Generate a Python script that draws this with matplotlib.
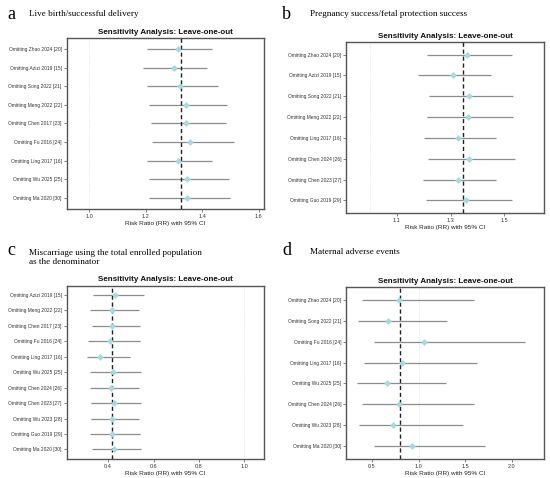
import numpy as np
import matplotlib
matplotlib.use('Agg')
import matplotlib.pyplot as plt

plt.rcParams['font.family'] = ['Liberation Sans', 'DejaVu Sans']

# panel a: live birth
a_labels = ['Omitting Zhao 2024 [20]', 'Omitting Azizi 2019 [15]', 'Omitting Song 2022 [21]',
            'Omitting Meng 2022 [22]', 'Omitting Chen 2017 [23]', 'Omitting Fu 2016 [24]',
            'Omitting Ling 2017 [16]', 'Omitting Wu 2025 [25]', 'Omitting Ma 2020 [30]']
a_rr = [1.314, 1.300, 1.322, 1.342, 1.342, 1.358, 1.316, 1.346, 1.348]
a_lo = [1.204, 1.192, 1.204, 1.212, 1.218, 1.222, 1.204, 1.212, 1.212]
a_hi = [1.435, 1.419, 1.458, 1.490, 1.486, 1.514, 1.435, 1.496, 1.499]
a_overall = 1.325

# panel b: pregnancy success
b_labels = ['Omitting Zhao 2024 [20]', 'Omitting Azizi 2019 [15]', 'Omitting Song 2022 [21]',
            'Omitting Meng 2022 [22]', 'Omitting Ling 2017 [16]', 'Omitting Chen 2024 [26]',
            'Omitting Chen 2023 [27]', 'Omitting Guo 2019 [29]']
b_rr = [1.361, 1.308, 1.369, 1.364, 1.328, 1.369, 1.328, 1.359]
b_lo = [1.213, 1.180, 1.221, 1.213, 1.202, 1.217, 1.199, 1.208]
b_hi = [1.528, 1.451, 1.534, 1.533, 1.468, 1.540, 1.471, 1.530]
b_overall = 1.345

# panel c: miscarriage
c_labels = ['Omitting Azizi 2019 [15]', 'Omitting Meng 2022 [22]', 'Omitting Chen 2017 [23]',
            'Omitting Fu 2016 [24]', 'Omitting Ling 2017 [16]', 'Omitting Wu 2025 [25]',
            'Omitting Chen 2024 [26]', 'Omitting Chen 2023 [27]', 'Omitting Wu 2023 [28]',
            'Omitting Guo 2019 [29]', 'Omitting Ma 2020 [30]']
c_rr = [0.432, 0.415, 0.419, 0.409, 0.363, 0.422, 0.412, 0.424, 0.418, 0.419, 0.424]
c_lo = [0.331, 0.322, 0.328, 0.312, 0.307, 0.322, 0.319, 0.326, 0.326, 0.322, 0.328]
c_hi = [0.559, 0.535, 0.540, 0.540, 0.496, 0.544, 0.538, 0.544, 0.537, 0.541, 0.544]
c_overall = 0.415

# panel d: maternal adverse events
d_labels = ['Omitting Zhao 2024 [20]', 'Omitting Song 2022 [21]', 'Omitting Fu 2016 [24]',
            'Omitting Ling 2017 [16]', 'Omitting Wu 2025 [25]', 'Omitting Chen 2024 [26]',
            'Omitting Wu 2023 [28]', 'Omitting Ma 2020 [30]']
d_rr = [0.790, 0.675, 1.062, 0.819, 0.661, 0.790, 0.729, 0.933]
d_lo = [0.396, 0.350, 0.525, 0.418, 0.335, 0.396, 0.364, 0.525]
d_hi = [1.599, 1.306, 2.147, 1.628, 1.298, 1.592, 1.481, 1.714]
d_overall = 0.797

panels = [
    (a_labels, a_rr, a_lo, a_hi, a_overall,
     [1.0, 1.2, 1.4, 1.6], ['1.0', '1.2', '1.4', '1.6'], (0.92, 1.62),
     [0.121, 0.5628, 0.3593, 0.3577]),
    (b_labels, b_rr, b_lo, b_hi, b_overall,
     [1.1, 1.3, 1.5], ['1.1', '1.3', '1.5'], (0.91, 1.648),
     [0.629, 0.5544, 0.36, 0.3577]),
    (c_labels, c_rr, c_lo, c_hi, c_overall,
     [0.4, 0.6, 0.8, 1.0], ['0.4', '0.6', '0.8', '1.0'], (0.2165, 1.088),
     [0.121, 0.0404, 0.3593, 0.362]),
    (d_labels, d_rr, d_lo, d_hi, d_overall,
     [0.5, 1.0, 1.5, 2.0], ['0.5', '1.0', '1.5', '2.0'], (0.221, 2.347),
     [0.629, 0.0404, 0.36, 0.3586]),
]

fig = plt.figure(figsize=(5.5, 4.78), dpi=100)

for labels, rr, lo, hi, overall, ticks, ticklabels, xlim, pos in panels:
    ax = fig.add_axes(pos)
    n = len(labels)
    y = np.arange(n)[::-1] + 1
    ax.axvline(1.0, color='#d8dde0', lw=0.6, ls=':', zorder=1)
    ax.hlines(y, lo, hi, color='#8c8c8c', lw=0.9, zorder=2)
    ax.axvline(overall, color='#222222', lw=1.0, ls=(0, (3, 2)), zorder=3)
    ax.scatter(rr, y, marker='D', s=9, color='#a3dde0', edgecolor='#8fcfd6', lw=0.3, zorder=4)
    ax.set_xlim(*xlim)
    ax.set_ylim(0.4, n + 0.6)
    ax.set_yticks(y)
    ax.set_yticklabels(labels, fontsize=3.5)
    ax.set_xticks(ticks)
    ax.set_xticklabels(ticklabels, fontsize=4.0)
    ax.tick_params(length=2, width=0.5, colors='#555555', labelcolor='#333333', pad=1.5)
    for sp in ax.spines.values():
        sp.set_color('#555555')
        sp.set_linewidth(1.0)
    ax.set_xlabel('Risk Ratio (RR) with 95% CI', fontsize=4.6, labelpad=1.5, color='#222222')
    ax.set_title('Sensitivity Analysis: Leave-one-out', fontsize=5.8, fontweight='bold',
                 pad=3, color='#111111')

serif = ['Liberation Serif', 'DejaVu Serif']
fig.text(0.013, 0.969, 'a', family=serif, fontsize=13, va='center')
fig.text(0.053, 0.971, 'Live birth/successful delivery', family=serif, fontsize=6.6,
         va='center')
fig.text(0.513, 0.969, 'b', family=serif, fontsize=13, va='center')
fig.text(0.564, 0.970, 'Pregnancy success/fetal protection success', family=serif,
         fontsize=6.6, va='center')
fig.text(0.013, 0.476, 'c', family=serif, fontsize=13, va='center')
fig.text(0.053, 0.462, 'Miscarriage using the total enrolled population\nas the denominator',
         family=serif, fontsize=6.6, va='center', linespacing=1.15)
fig.text(0.513, 0.475, 'd', family=serif, fontsize=13, va='center')
fig.text(0.564, 0.473, 'Maternal adverse events', family=serif, fontsize=6.6,
         va='center')

fig.savefig('out.png', dpi=100)
